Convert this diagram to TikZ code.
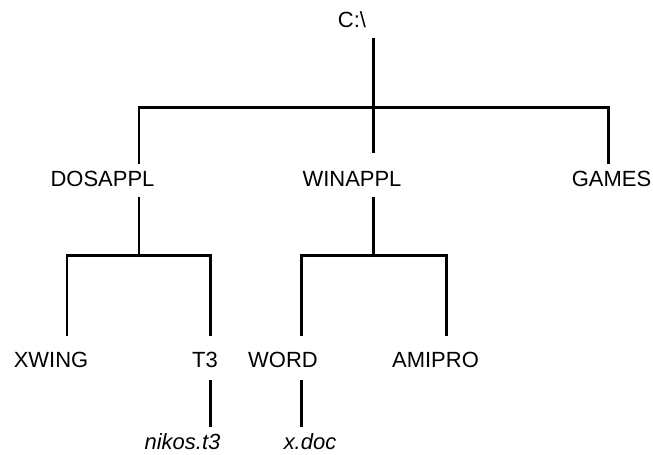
\documentclass[tikz,border=0pt]{standalone}
\usepackage{fontspec}
\setmainfont{Liberation Sans}
\begin{document}
\begin{tikzpicture}[font=\fontsize{12.5}{15}\selectfont, line width=1.7pt]
    \useasboundingbox (0, 0) rectangle (13.06, -9.08);
    \node (root) at(7.04, -0.40) {C:\textbackslash};
    \node (dosappl) at(2.05, -3.58) {DOSAPPL};
    \node (winappl) at(7.04, -3.58) {WINAPPL};
    \node (games) at(12.23, -3.58) {GAMES};
    \node (xwing) at(1.02, -7.20) {XWING};
    \node (t3) at(4.10, -7.20) {T3};
    \node (word) at(5.66, -7.20) {WORD};
    \node (amipro) at(8.71, -7.20) {AMIPRO};
    \node (nikos) at(3.65, -8.84) {\itshape nikos.t3};
    \node (xdoc) at(6.20, -8.84) {\itshape x.doc};
    \coordinate (rootTop) at (7.46, -0.76);
    \coordinate (rootJoin) at (7.46, -2.14);
    \coordinate (rootDown) at (7.46, -3.06);
    \coordinate (dosUp) at (2.78, -3.28);
    \coordinate (gamesUp) at (12.16, -3.28);
    \coordinate (dosTop) at (2.78, -3.94);
    \coordinate (dosJoin) at (2.78, -5.10);
    \coordinate (xwingUp) at (1.34, -6.72);
    \coordinate (t3Up) at (4.21, -6.72);
    \coordinate (winTop) at (7.46, -3.94);
    \coordinate (winJoin) at (7.46, -5.10);
    \coordinate (wordUp) at (6.02, -6.72);
    \coordinate (amiproUp) at (8.92, -6.72);
    \coordinate (t3Down) at (4.21, -7.60);
    \coordinate (nikosUp) at (4.21, -8.54);
    \coordinate (wordDown) at (6.02, -7.60);
    \coordinate (xdocUp) at (6.02, -8.54);
    \draw (rootTop) -- (rootDown);
    \draw (dosUp) |- (rootJoin) -| (gamesUp);
    \draw (dosTop) -- (dosJoin);
    \draw (xwingUp) |- (dosJoin) -| (t3Up);
    \draw (winTop) -- (winJoin);
    \draw (wordUp) |- (winJoin) -| (amiproUp);
    \draw (t3Down) -- (nikosUp);
    \draw (wordDown) -- (xdocUp);
\end{tikzpicture}
\end{document}
